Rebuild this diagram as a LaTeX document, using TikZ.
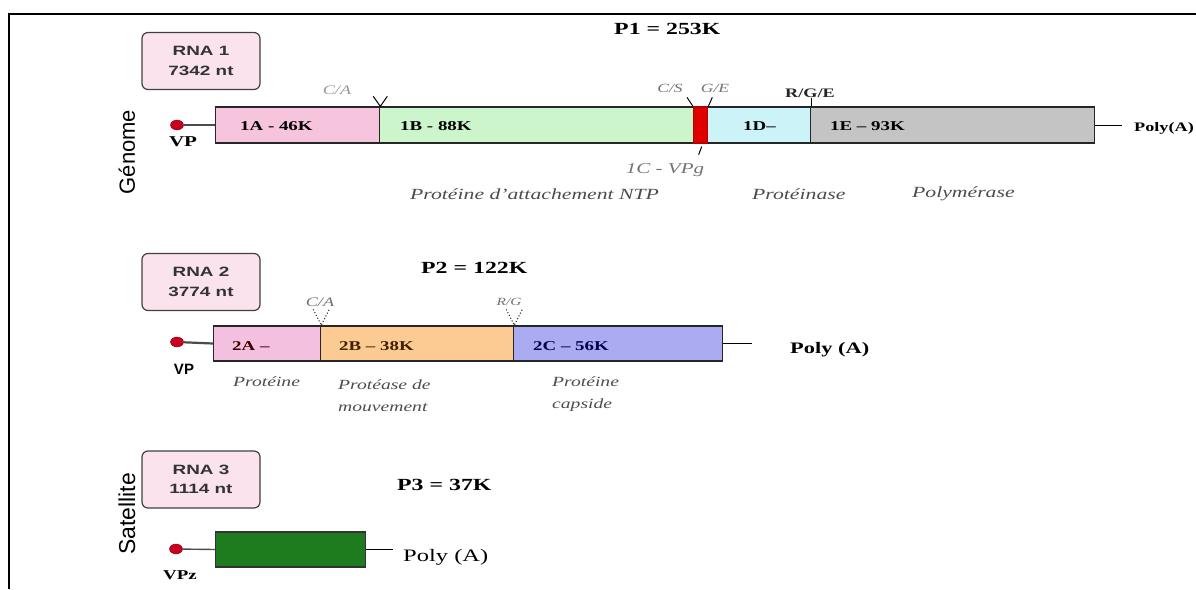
\documentclass[tikz,border=0pt]{standalone}
\usepackage{fontspec}
\usetikzlibrary{shapes.geometric}
\setmainfont{Liberation Serif}[FakeStretch=1.4]
\setsansfont{Liberation Sans}
\newfontfamily\widesans{Liberation Sans}[FakeStretch=1.4]
\newcommand\fsz[1]{\fontsize{#1}{#1}\selectfont}

\definecolor{rnapink}{HTML}{FBE3EE}
\definecolor{segA}{HTML}{F6C4DD}
\definecolor{segB}{HTML}{CDF5CB}
\definecolor{segC}{HTML}{E00000}
\definecolor{segD}{HTML}{CCF4F8}
\definecolor{segE}{HTML}{C4C4C4}
\definecolor{segTwoA}{HTML}{F3C1DF}
\definecolor{segTwoB}{HTML}{FBCB93}
\definecolor{segTwoC}{HTML}{ABABF2}
\definecolor{satgreen}{HTML}{1E7B1E}
\definecolor{vpred}{HTML}{C8001E}

\tikzset{
  rnabox/.style={draw=black!75, fill=rnapink, rounded corners=6pt, line width=1.2pt,
    minimum width=118pt, minimum height=57pt, align=center, inner sep=0pt,
    font=\widesans\bfseries\fontsize{13.5}{19.5}\selectfont, text=black!80},
  seg/.style={draw=black!85, line width=1.3pt, minimum height=36pt, inner sep=0pt, anchor=west},
  seglab/.style={anchor=west, inner sep=0pt, font=\bfseries\fsz{13.5}},
  vpdot/.style={ellipse, fill=vpred, draw=vpred!70!black, minimum width=13pt, minimum height=10pt, inner sep=0pt},
  tail/.style={draw=black!70, line width=2.2pt},
  polyline/.style={draw=black, line width=1pt},
  tick/.style={draw=black, line width=1pt},
  dtick/.style={draw=black!80, line width=1.1pt, dotted},
  site/.style={inner sep=0pt, font=\itshape\fsz{12.5}, text=black!55},
  annot/.style={anchor=west, inner sep=0pt, font=\itshape\fsz{15.5}, text=black!70},
  annotsm/.style={anchor=west, inner sep=0pt, align=left, font=\itshape\fontsize{14}{22}\selectfont, text=black!70},
  ptitle/.style={anchor=west, inner sep=0pt, font=\bfseries\fsz{17}},
  side/.style={rotate=90, inner sep=0pt, font=\sffamily},
}

\begin{document}
\begin{tikzpicture}[x=1pt,y=-1pt]
\useasboundingbox (0,0) rectangle (1196,589);

% outer frame (top and left edges)
\draw[line width=2pt] (9,589) -- (9,14) -- (1196,14);

% ---------------- RNA 1 : genome ----------------
\node[rnabox] (rna1) at (201,61) {RNA 1\\7342 nt};
\node[ptitle] (p1) at (614,29) {P1 = 253K};
\node[side, font=\sffamily\fsz{22}] (genome) at (127,152) {Génome};

\node[seg, fill=segA, minimum width=164pt] (a1) at (215,125) {};
\node[seg, fill=segB, minimum width=314pt] (b1) at (379,125) {};
\node[seg, fill=segD, minimum width=103pt] (d1) at (707,125) {};
\node[seg, fill=segE, minimum width=284pt] (e1) at (810,125) {};
\node[seg, fill=segC, draw=segC!80!black, minimum width=14pt] (c1) at (693,125) {};

\node[seglab] (la1) at (240,126) {1A - 46K};
\node[seglab] (lb1) at (400,126) {1B - 88K};
\node[seglab] (ld1) at (743,126) {1D–};
\node[seglab] (le1) at (830,126) {1E – 93K};

\node[vpdot] (vp1) at (177,125) {};
\draw[tail] (vp1) -- (a1.west);
\node[inner sep=0pt, font=\bfseries\fsz{15}] (vpl1) at (183,142) {VP};

\coordinate (pe1) at (1122,125);
\draw[polyline] (e1.east) -- (pe1);
\node[anchor=west, inner sep=0pt, font=\bfseries\fsz{13}] (poly1) at (1134,128) {Poly(A)};

% cleavage sites
\draw[tick] (a1.north east) ++(-7,-10) -- (a1.north east) -- ++(7,-10);
\node[site, font=\itshape\fsz{13}, text=black!40] (sca1) at (337,90) {C/A};
\draw[tick] (c1.north west) ++(-6,-9) -- (c1.north west);
\node[site] (scs1) at (670,88) {C/S};
\draw[tick] (c1.north east) ++(4,-9) -- (c1.north east);
\node[site] (sge1) at (715,88) {G/E};
\draw[tick] (d1.north east) -- ++(0,-8);
\node[site, font=\bfseries\fsz{13}, text=black!85] (srg1) at (810,93) {R/G/E};
\draw[tick] (c1.south) ++(1,3) -- ++(-3,8);
\node[site, font=\itshape\fsz{15}] (vpg1) at (665,170) {1C - VPg};

\node[annot] (an1) at (410,194) {Protéine d'attachement NTP};
\node[annot] (an2) at (752,194) {Protéinase};
\node[annot] (an3) at (912,194) {Polymérase};

% ---------------- RNA 2 ----------------
\node[rnabox] (rna2) at (201,282) {RNA 2\\3774 nt};
\node[ptitle] (p2) at (421,268) {P2 = 122K};

\node[seg, fill=segTwoA, minimum width=107pt, minimum height=35pt] (a2) at (213,343.5) {};
\node[seg, fill=segTwoB, minimum width=193pt, minimum height=35pt] (b2) at (320,343.5) {};
\node[seg, fill=segTwoC, minimum width=209pt, minimum height=35pt] (c2) at (513,343.5) {};

\node[seglab, text=black!75!red] (la2) at (232,346) {2A –};
\node[seglab, text=black!75!orange] (lb2) at (339,346) {2B – 38K};
\node[seglab, text=black!70!blue] (lc2) at (533,346) {2C – 56K};

\node[vpdot] (vp2) at (177,342) {};
\draw[tail] (vp2) -- (a2.west);
\node[inner sep=0pt, font=\sffamily\bfseries\fsz{15}] (vpl2) at (184,369) {VP};

\coordinate (pe2) at (752,343.5);
\draw[polyline] (c2.east) -- (pe2);
\node[anchor=west, inner sep=0pt, font=\bfseries\fsz{16}] (poly2) at (790,350) {Poly (A)};

\draw[dtick] (a2.north east) ++(-8,-16) -- (a2.north east) -- ++(8,-16);
\node[site, font=\itshape\fsz{13}, text=black!55] (sca2) at (320,302) {C/A};
\draw[dtick] (b2.north east) ++(-8,-16) -- (b2.north east) -- ++(8,-16);
\node[site, font=\itshape\fsz{11}, text=black!55] (srg2) at (509,302) {R/G};

\node[annotsm] (an4) at (233,382) {Protéine};
\node[annotsm] (an5) at (338,396) {Protéase de\\mouvement};
\node[annotsm] (an6) at (552,394) {Protéine\\capside};

% ---------------- RNA 3 : satellite ----------------
\node[rnabox] (rna3) at (201,479.5) {RNA 3\\1114 nt};
\node[ptitle] (p3) at (397,485) {P3 = 37K};
\node[side, font=\sffamily\fsz{23}] (satlab) at (127,514) {Satellite};

\node[seg, fill=satgreen, draw=black!80, minimum width=150pt, minimum height=35pt] (s3) at (215,549.5) {};
\node[vpdot] (vp3) at (176,549) {};
\draw[tail, line width=1.4pt] (vp3) -- (s3.west);
\node[inner sep=0pt, font=\bfseries\fsz{13.5}] (vpl3) at (180,575) {VPz};

\coordinate (pe3) at (393,549.5);
\draw[polyline] (s3.east) -- (pe3);
\node[anchor=west, inner sep=0pt, font=\fsz{17.5}] (poly3) at (403,557) {Poly (A)};

\end{tikzpicture}
\end{document}
